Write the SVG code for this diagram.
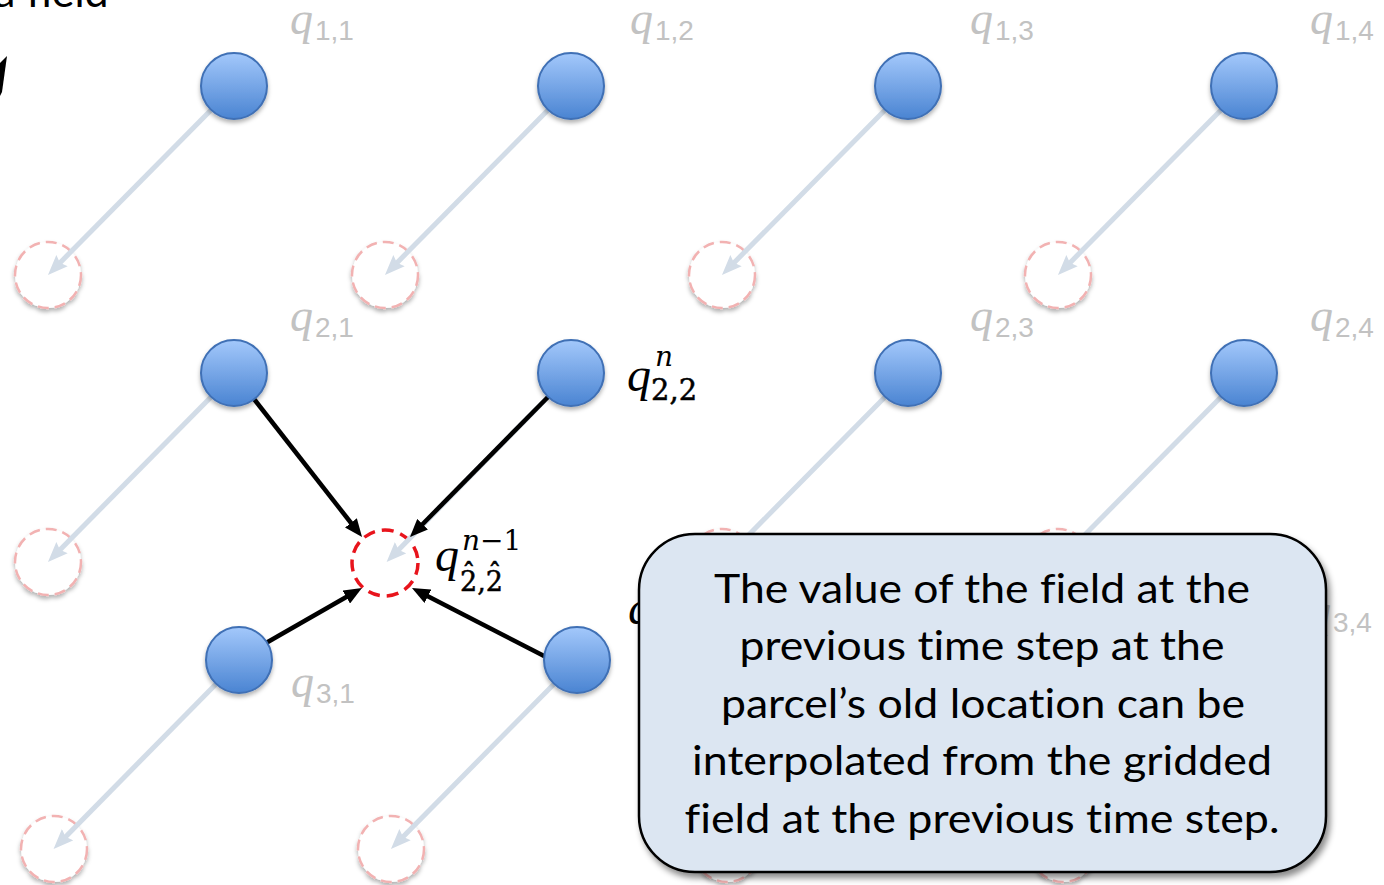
<svg xmlns="http://www.w3.org/2000/svg" width="1384" height="885" viewBox="0 0 1384 885">
<defs>
  <linearGradient id="blueGrad" x1="0" y1="0" x2="0" y2="1">
    <stop offset="0" stop-color="#a3c8fb"/>
    <stop offset="1" stop-color="#4a84d2"/>
  </linearGradient>
  <filter id="shadow" x="-30%" y="-30%" width="160%" height="170%">
    <feDropShadow dx="0" dy="3" stdDeviation="2" flood-color="#000" flood-opacity="0.3"/>
  </filter>
  <filter id="boxShadow" x="-10%" y="-10%" width="120%" height="125%">
    <feDropShadow dx="3" dy="5" stdDeviation="3" flood-color="#000" flood-opacity="0.45"/>
  </filter>
  <marker id="lightHead" markerUnits="userSpaceOnUse" markerWidth="20" markerHeight="16" refX="8" refY="8" orient="auto">
    <path d="M0,0 L20,8 L0,16 L3,8 Z" fill="#d2dce7"/>
  </marker>
  <marker id="blackHead" markerUnits="userSpaceOnUse" markerWidth="18" markerHeight="15" refX="4" refY="7.5" orient="auto">
    <path d="M0,0 L18,7.5 L0,15 Z" fill="#000"/>
  </marker>
</defs>
<style>
  .blue { fill: url(#blueGrad); stroke: #3f70b5; stroke-width: 2; filter: url(#shadow); }
  .old { fill: #fff; stroke: #f2b2b2; stroke-width: 2.5; stroke-dasharray: 11 6; filter: url(#shadow); }
  .oldMain { fill: #fff; stroke: #e8141c; stroke-width: 3.5; stroke-dasharray: 12 7; }
  .light { stroke: #d2dce7; stroke-width: 5; fill: none; marker-end: url(#lightHead); }
  .black { stroke: #000; stroke-width: 4.5; fill: none; marker-end: url(#blackHead); }
  .gq { font-family: "Liberation Serif", serif; font-style: italic; font-size: 46px; fill: #c2c2c2; }
  .gs { font-family: "Liberation Sans", sans-serif; font-size: 28px; fill: #c2c2c2; }
  .bq { font-family: "Liberation Serif", serif; font-style: italic; font-size: 48px; fill: #000; }
  .bsup { font-family: "DejaVu Serif", serif; font-size: 28px; fill: #000; }
  .bsub { font-family: "DejaVu Serif", serif; font-size: 29px; fill: #000; stroke: #000; stroke-width: 0.5; }
  .note { font-family: Lato, "Open Sans", sans-serif; font-size: 40px; fill: #000; text-anchor: middle; font-variant-ligatures: none; }
</style>
<rect width="1384" height="885" fill="#fff"/>

<!-- cropped slide fragments -->
<g id="fragment-top-left">
  <text x="-6" y="7" style="font-family: Lato, sans-serif; font-size: 43px; fill:#000; font-variant-ligatures: none;">a field</text>
  <polygon points="0,63 7,56 2,92 0,96" fill="#000"/>
</g>

<!-- old (departure) positions -->
<g id="old-1-1"><circle class="old" cx="48" cy="275" r="33"/></g>
<g id="old-1-2"><circle class="old" cx="385" cy="275" r="33"/></g>
<g id="old-1-3"><circle class="old" cx="722" cy="275" r="33"/></g>
<g id="old-1-4"><circle class="old" cx="1058" cy="275" r="33"/></g>
<g id="old-2-1"><circle class="old" cx="48" cy="562" r="33"/></g>
<g id="old-2-3"><circle class="old" cx="722" cy="562" r="33"/></g>
<g id="old-2-4"><circle class="old" cx="1058" cy="562" r="33"/></g>
<g id="old-3-1"><circle class="old" cx="54" cy="849" r="33"/></g>
<g id="old-3-2"><circle class="old" cx="391" cy="849" r="33"/></g>
<g id="old-3-3"><circle class="old" cx="727" cy="849" r="33"/></g>
<g id="old-3-4"><circle class="old" cx="1063" cy="849" r="33"/></g>
<g id="old-2-2"><circle class="oldMain" cx="385" cy="563" r="33"/></g>

<!-- connectors -->
<g id="connectors">
  <line class="light" x1="211" y1="110" x2="56.4" y2="266.4"/>
  <line class="light" x1="548" y1="110" x2="393.4" y2="266.4"/>
  <line class="light" x1="885" y1="110" x2="730.4" y2="266.4"/>
  <line class="light" x1="1221" y1="110" x2="1066.4" y2="266.4"/>
  <line class="light" x1="211" y1="397" x2="56.4" y2="553.4"/>
  <line class="light" x1="548" y1="397" x2="395" y2="553.4"/>
  <line class="light" x1="885" y1="397" x2="730.4" y2="553.4"/>
  <line class="light" x1="1221" y1="397" x2="1066.4" y2="553.4"/>
  <line class="light" x1="216" y1="684" x2="62" y2="840.4"/>
  <line class="light" x1="554" y1="684" x2="399.4" y2="840.4"/>
  <line class="black" x1="254" y1="399" x2="353.4" y2="526"/>
  <line class="black" x1="548" y1="397" x2="419.8" y2="527"/>
  <line class="black" x1="266" y1="643" x2="349.8" y2="595"/>
  <line class="black" x1="546" y1="657" x2="424.4" y2="594.4"/>
</g>

<!-- grid parcels (current positions) -->
<g id="node-1-1"><circle class="blue" cx="234" cy="86" r="33"/></g>
<g id="node-1-2"><circle class="blue" cx="571" cy="86" r="33"/></g>
<g id="node-1-3"><circle class="blue" cx="908" cy="86" r="33"/></g>
<g id="node-1-4"><circle class="blue" cx="1244" cy="86" r="33"/></g>
<g id="node-2-1"><circle class="blue" cx="234" cy="373" r="33"/></g>
<g id="node-2-2"><circle class="blue" cx="571" cy="373" r="33"/></g>
<g id="node-2-3"><circle class="blue" cx="908" cy="373" r="33"/></g>
<g id="node-2-4"><circle class="blue" cx="1244" cy="373" r="33"/></g>
<g id="node-3-1"><circle class="blue" cx="239" cy="660" r="33"/></g>
<g id="node-3-2"><circle class="blue" cx="577" cy="660" r="33"/></g>

<!-- gray labels -->
<g id="label-1-1"><text class="gq" x="290" y="34">q</text><text class="gs" x="315" y="40">1,1</text></g>
<g id="label-1-2"><text class="gq" x="630" y="34">q</text><text class="gs" x="655" y="40">1,2</text></g>
<g id="label-1-3"><text class="gq" x="970" y="34">q</text><text class="gs" x="995" y="40">1,3</text></g>
<g id="label-1-4"><text class="gq" x="1310" y="34">q</text><text class="gs" x="1335" y="40">1,4</text></g>
<g id="label-2-1"><text class="gq" x="290" y="331">q</text><text class="gs" x="315" y="337">2,1</text></g>
<g id="label-2-3"><text class="gq" x="970" y="331">q</text><text class="gs" x="995" y="337">2,3</text></g>
<g id="label-2-4"><text class="gq" x="1310" y="331">q</text><text class="gs" x="1335" y="337">2,4</text></g>
<g id="label-3-1"><text class="gq" x="291" y="697">q</text><text class="gs" x="316" y="703">3,1</text></g>
<g id="label-3-4"><text class="gq" x="1308" y="626">q</text><text class="gs" x="1333" y="632">3,4</text></g>
<g id="label-3-2"><text class="bq" x="628" y="624">q</text></g>

<!-- black labels -->
<g id="label-qn22">
  <text class="bq" x="627" y="391">q</text>
  <text class="bsup" x="655" y="366" style="font-style:italic">n</text>
  <text class="bsub" x="651" y="400">2,2</text>
</g>
<g id="label-qn1">
  <text class="bq" x="435" y="571">q</text>
  <text class="bsup" x="462" y="550"><tspan font-style="italic">n</tspan>−1</text>
  <text class="bsub" style="font-size:27px" x="460 462 477.2 485.8 488" y="591 583 591 591 583">2ˆ,2ˆ</text>
</g>

<!-- callout -->
<g id="callout">
  <rect x="639" y="534" width="687" height="338" rx="56" ry="56" fill="#dce6f2" stroke="#000" stroke-width="2.5" filter="url(#boxShadow)"/>
  <text class="note" x="982" y="603" textLength="536" lengthAdjust="spacingAndGlyphs">The value of the field at the</text>
  <text class="note" x="982" y="660" textLength="485" lengthAdjust="spacingAndGlyphs">previous time step at the</text>
  <text class="note" x="983" y="718" textLength="524" lengthAdjust="spacingAndGlyphs">parcel’s old location can be</text>
  <text class="note" x="982" y="775" textLength="580" lengthAdjust="spacingAndGlyphs">interpolated from the gridded</text>
  <text class="note" x="982" y="833" textLength="595" lengthAdjust="spacingAndGlyphs">field at the previous time step.</text>
</g>
</svg>
